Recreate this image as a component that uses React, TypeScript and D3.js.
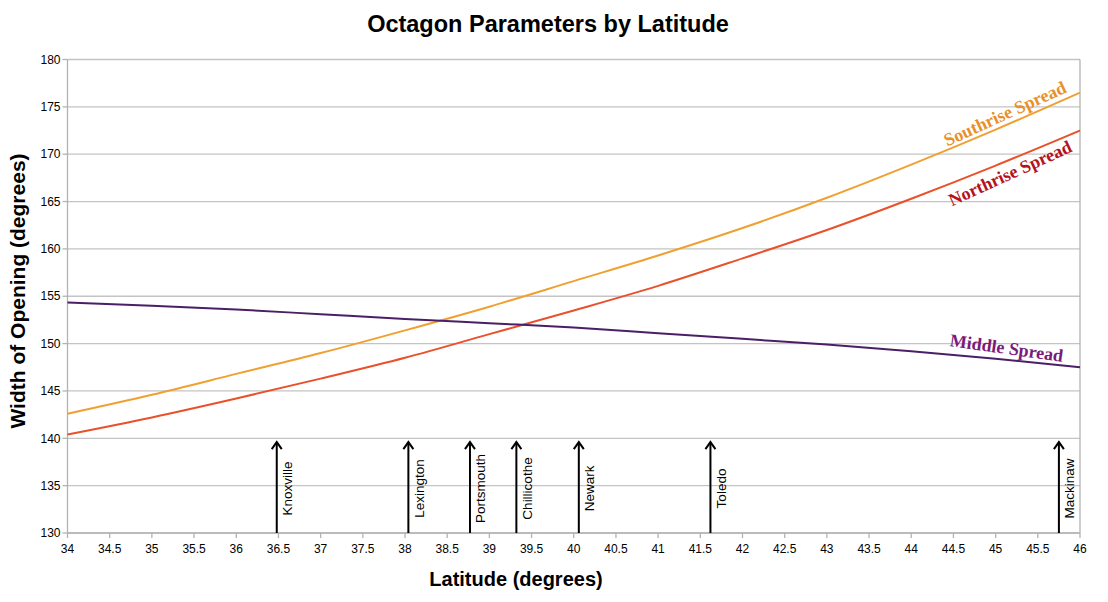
import React from "react";
import * as d3 from "d3";

const latitudes = [34, 35, 36, 37, 38, 39, 40, 41, 42, 43, 44, 45, 46];
const southrise = [142.6, 144.6, 146.8, 149.0, 151.4, 153.9, 156.6, 159.3, 162.2, 165.4, 168.9, 172.6, 176.5];
const northrise = [140.4, 142.2, 144.2, 146.3, 148.5, 151.0, 153.5, 156.1, 159.0, 162.0, 165.3, 168.8, 172.5];
const middle = [154.35, 154.0, 153.6, 153.1, 152.6, 152.15, 151.7, 151.1, 150.5, 149.9, 149.2, 148.4, 147.5];

const sites = ["Knoxville", "Lexington", "Portsmouth", "Chillicothe", "Newark", "Toledo", "Mackinaw"];
const siteLatitudes = [36.48, 38.04, 38.77, 39.32, 40.06, 41.62, 45.75];

const xTicks = d3.range(34, 46.001, 0.5);
const yTicks = d3.range(130, 180.001, 5);

const seriesNames = ["Southrise Spread", "Northrise Spread", "Middle Spread"];
const seriesColors = ["#f0a030", "#e8512a", "#4a1f66"];
const labelColors = ["#e8902a", "#b5121b", "#7a1a7a"];

export default function App() {
  const W = 1108, H = 602;
  const left = 67.5, right = 1080, top = 59.5, bottom = 533;
  const x = d3.scaleLinear().domain([34, 46]).range([left, right]);
  const y = d3.scaleLinear().domain([130, 180]).range([bottom, top]);
  const line = d3
    .line<number>()
    .x((_, i) => x(latitudes[i]))
    .y((d) => y(d))
    .curve(d3.curveMonotoneX);
  const series = [southrise, northrise, middle];
  const sans = "'Liberation Sans', Arial, sans-serif";
  const serif = "'Liberation Serif', 'Times New Roman', serif";
  const arrowTop = 139.6;
  const labelCenter = 134.7;

  const labelDefs = [
    { lat: 45.14, val: 173.7, angle: -24.5 },
    { lat: 45.2, val: 167.4, angle: -24.5 },
    { lat: 45.12, val: 148.9, angle: 8 },
  ];

  return (
    <svg
      width={W}
      height={H}
      style={{ position: "absolute", left: 0, top: 0, background: "#fff" }}
      fontFamily={sans}
    >
      <rect x={0} y={0} width={W} height={H} fill="#fff" />
      {yTicks.map((t) => (
        <line key={"g" + t} x1={left} x2={right} y1={y(t)} y2={y(t)} stroke="#c4c4c4" strokeWidth={1.3} />
      ))}
      <line x1={left} x2={left} y1={top} y2={bottom} stroke="#b3b3b3" strokeWidth={1.3} />
      <line x1={right} x2={right} y1={top} y2={bottom} stroke="#b3b3b3" strokeWidth={1.3} />
      <line x1={left} x2={right} y1={bottom} y2={bottom} stroke="#b3b3b3" strokeWidth={1.3} />
      {yTicks.map((t) => (
        <g key={"y" + t}>
          <line x1={left - 5} x2={left} y1={y(t)} y2={y(t)} stroke="#b3b3b3" strokeWidth={1.3} />
          <text x={left - 7} y={y(t)} dy="0.35em" textAnchor="end" fontSize={12} fill="#000">
            {t}
          </text>
        </g>
      ))}
      {xTicks.map((t) => (
        <g key={"x" + t}>
          <line x1={x(t)} x2={x(t)} y1={bottom} y2={bottom + 5} stroke="#b3b3b3" strokeWidth={1.3} />
          <text x={x(t)} y={bottom + 20} textAnchor="middle" fontSize={12} fill="#000">
            {t}
          </text>
        </g>
      ))}
      {series.map((s, i) => (
        <path key={"s" + i} d={line(s) || ""} fill="none" stroke={seriesColors[i]} strokeWidth={2} />
      ))}
      {labelDefs.map((l, i) => (
        <text
          key={"l" + i}
          transform={`translate(${x(l.lat)},${y(l.val)}) rotate(${l.angle})`}
          textAnchor="middle"
          fontFamily={serif}
          fontWeight="bold"
          fontSize={18}
          fill={labelColors[i]}
        >
          {seriesNames[i]}
        </text>
      ))}
      {sites.map((name, i) => {
        const ax = x(siteLatitudes[i]);
        const ty = y(arrowTop);
        return (
          <g key={"a" + i}>
            <line x1={ax} x2={ax} y1={y(130)} y2={ty + 1} stroke="#000" strokeWidth={2} />
            <path
              d={`M${ax - 5},${ty + 7} L${ax},${ty} L${ax + 5},${ty + 7}`}
              fill="none"
              stroke="#000"
              strokeWidth={2}
            />
            <text
              transform={`translate(${ax + 15.5},${y(labelCenter)}) rotate(-90)`}
              textAnchor="middle"
              fontSize={13.5}
              fill="#000"
            >
              {name}
            </text>
          </g>
        );
      })}
      <text x={548} y={32} textAnchor="middle" fontSize={23.5} fontWeight="bold" fill="#000">
        Octagon Parameters by Latitude
      </text>
      <text x={516} y={586} textAnchor="middle" fontSize={20} fontWeight="bold" fill="#000">
        Latitude (degrees)
      </text>
      <text
        transform={`translate(25,${291}) rotate(-90)`}
        textAnchor="middle"
        fontSize={21}
        fontWeight="bold"
        fill="#000"
      >
        Width of Opening (degrees)
      </text>
    </svg>
  );
}
